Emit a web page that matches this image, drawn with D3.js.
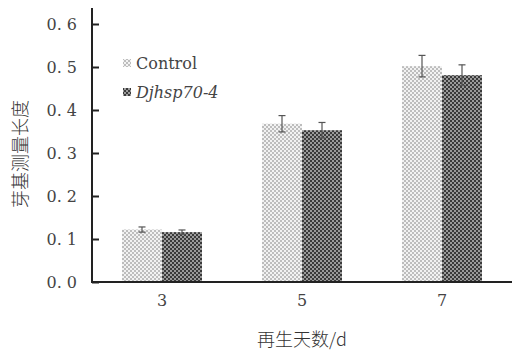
<!DOCTYPE html>
<html><head><meta charset="utf-8">
<script src="https://cdn.jsdelivr.net/npm/d3@7"></script>
<style>body{margin:0;background:#fff}</style>
</head><body>
<svg id="c" width="517" height="351"></svg>
<script>
const categories = ["3", "5", "7"];
const seriesNames = ["Control", "Djhsp70-4"];
const controlValues = [0.122, 0.368, 0.502];
const controlErrors = [0.006, 0.019, 0.025];
const djhspValues = [0.116, 0.353, 0.481];
const djhspErrors = [0.005, 0.018, 0.024];
const yTicks = [0.0, 0.1, 0.2, 0.3, 0.4, 0.5, 0.6];
const yTickLabels = ["0. 0", "0. 1", "0. 2", "0. 3", "0. 4", "0. 5", "0. 6"];

const SERIF = "'DejaVu Serif', serif";
const CJK = "'Noto Sans CJK SC', sans-serif";

const svg = d3.select("#c");
const defs = svg.append("defs");
function pat(id, bg, fg) {
  const p = defs.append("pattern").attr("id", id).attr("patternUnits", "userSpaceOnUse")
    .attr("width", 4).attr("height", 4);
  p.append("rect").attr("width", 4).attr("height", 4).attr("fill", bg);
  p.append("rect").attr("x", 0).attr("y", 0).attr("width", 2).attr("height", 2).attr("fill", fg);
  p.append("rect").attr("x", 2).attr("y", 2).attr("width", 2).attr("height", 2).attr("fill", fg);
}
pat("pc", "#f2f2f2", "#bdbdbd");
pat("pd", "#3a3a3a", "#9a9a9a");

const mLeft = 92, mRight = 512, mTop = 8, mBottom = 282;
const x = d3.scaleBand().domain(categories).range([mLeft, mRight]);
const y = d3.scaleLinear().domain([0, 0.6]).range([mBottom, 24]);
const barW = 40;

const series = [
  {name: seriesNames[0], vals: controlValues, errs: controlErrors, fill: "url(#pc)", off: -barW},
  {name: seriesNames[1], vals: djhspValues, errs: djhspErrors, fill: "url(#pd)", off: 0}
];
series.forEach(s => {
  const g = svg.append("g");
  categories.forEach((c, i) => {
    const cx = x(c) + x.bandwidth() / 2;
    g.append("rect").attr("x", cx + s.off).attr("width", barW)
      .attr("y", y(s.vals[i])).attr("height", y(0) - y(s.vals[i])).attr("fill", s.fill);
    const ex = cx + s.off + barW / 2;
    const y1 = y(s.vals[i] + s.errs[i]), y2 = y(s.vals[i] - s.errs[i]);
    g.append("line").attr("x1", ex).attr("x2", ex).attr("y1", y1).attr("y2", y2).attr("stroke", "#555").attr("stroke-width", 1.2);
    [y1, y2].forEach(yy => g.append("line").attr("x1", ex - 3.5).attr("x2", ex + 3.5).attr("y1", yy).attr("y2", yy).attr("stroke", "#555").attr("stroke-width", 1.2));
  });
});

// y axis
const yAxis = d3.axisRight(y).tickValues(yTicks).tickSize(7).tickFormat("");
const ya = svg.append("g").attr("transform", `translate(${mLeft},0)`).call(yAxis);
ya.select(".domain").remove();
ya.selectAll(".tick line").attr("stroke", "#222").attr("stroke-width", 2);
svg.append("line").attr("x1", mLeft).attr("x2", mLeft).attr("y1", mTop).attr("y2", mBottom + 1).attr("stroke", "#222").attr("stroke-width", 2);
svg.append("g").selectAll("text").data(yTicks).join("text")
  .attr("x", 77).attr("y", d => y(d) + 6).attr("text-anchor", "end")
  .style("font-family", SERIF).style("font-size", "16px").attr("fill", "#444")
  .text((d, i) => yTickLabels[i]);

// x axis
svg.append("line").attr("x1", mLeft - 1).attr("x2", mRight).attr("y1", mBottom).attr("y2", mBottom).attr("stroke", "#222").attr("stroke-width", 2);
svg.append("g").selectAll("text").data(categories).join("text")
  .attr("x", d => x(d) + x.bandwidth() / 2).attr("y", 306).attr("text-anchor", "middle")
  .style("font-family", SERIF).style("font-size", "16px").attr("fill", "#444").text(d => d);

// axis titles
svg.append("text").attr("x", 302).attr("y", 346).attr("text-anchor", "middle")
  .style("font-family", CJK).attr("font-weight", 300).attr("font-size", 18).attr("fill", "#333").text("再生天数/d");
svg.append("text").attr("transform", "translate(27,154) rotate(-90)").attr("text-anchor", "middle")
  .style("font-family", CJK).attr("font-weight", 300).attr("font-size", 18).attr("fill", "#333").text("芽基测量长度");

// legend
const leg = svg.append("g");
series.forEach((s, i) => {
  const ly = 63 + i * 29;
  leg.append("rect").attr("x", 123).attr("y", ly - 4).attr("width", 8).attr("height", 8).attr("fill", s.fill);
  leg.append("text").attr("x", 136).attr("y", ly + 6)
    .style("font-family", SERIF).style("font-size", "16px").attr("fill", "#444")
    .attr("font-style", i === 1 ? "italic" : "normal")
    .text(s.name);
});
</script>
</body></html>
